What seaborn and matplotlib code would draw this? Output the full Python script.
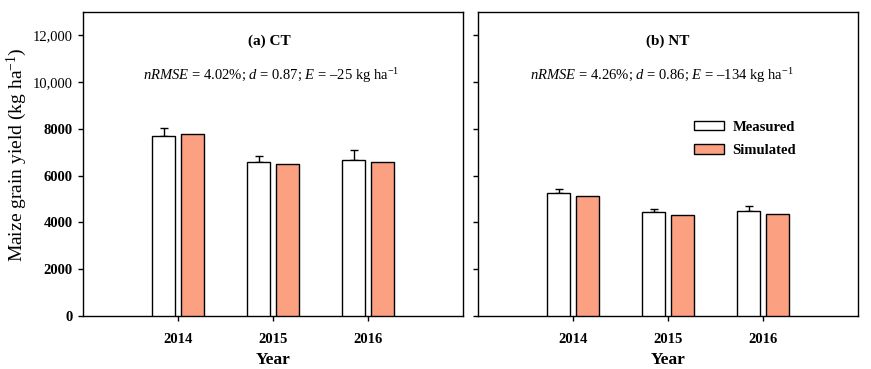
import numpy as np
import pandas as pd
import matplotlib
matplotlib.use('Agg')
import matplotlib.pyplot as plt
import seaborn as sns

# Chart values
YEARS = ['2014', '2015', '2016']
CT_MEASURED = [7710, 6570, 6690]
CT_MEASURED_ERR = [330, 270, 400]
CT_SIMULATED = [7800, 6500, 6590]
NT_MEASURED = [5240, 4440, 4510]
NT_MEASURED_ERR = [210, 150, 210]
NT_SIMULATED = [5130, 4300, 4370]
PANEL_TITLES = ['(a) CT', '(b) NT']
PANEL_STATS = [
    r'$\mathit{nRMSE}$ = 4.02%; $\mathit{d}$ = 0.87; $\mathit{E}$ = –25 kg ha$^{-1}$',
    r'$\mathit{nRMSE}$ = 4.26%; $\mathit{d}$ = 0.86; $\mathit{E}$ = –134 kg ha$^{-1}$',
]
Y_TICKS = [0, 2000, 4000, 6000, 8000, 10000, 12000]
Y_TICK_LABELS = ['0', '2000', '4000', '6000', '8000', '10,000', '12,000']

SALMON = '#FCA082'
W, H, DPI = 871, 369, 100

sns.set_style('ticks')
plt.rcParams['font.family'] = ['Liberation Serif', 'DejaVu Serif']
plt.rcParams['mathtext.fontset'] = 'custom'
plt.rcParams['mathtext.rm'] = 'Liberation Serif'
plt.rcParams['mathtext.it'] = 'Liberation Serif:italic'
plt.rcParams['mathtext.bf'] = 'Liberation Serif:bold'
for key in ['text.color', 'axes.labelcolor', 'xtick.color', 'ytick.color',
            'axes.edgecolor']:
    plt.rcParams[key] = 'black'


def make_frame(measured, simulated, err):
    rows = []
    for y, m, s, e in zip(YEARS, measured, simulated, err):
        rows.append({'Year': y, 'Source': 'Measured', 'Yield': m, 'Err': e})
        rows.append({'Year': y, 'Source': 'Simulated', 'Yield': s, 'Err': 0})
    return pd.DataFrame(rows)


frames = [make_frame(CT_MEASURED, CT_SIMULATED, CT_MEASURED_ERR),
          make_frame(NT_MEASURED, NT_SIMULATED, NT_MEASURED_ERR)]

fig = plt.figure(figsize=(W / DPI, H / DPI), dpi=DPI)
ax_lefts = [83, 478]
axes = [fig.add_axes([l / W, (H - 316) / H, 380 / W, 304 / H]) for l in ax_lefts]

for i, (ax, df) in enumerate(zip(axes, frames)):
    sns.barplot(
        data=df, x='Year', y='Yield', hue='Source', order=YEARS,
        hue_order=['Measured', 'Simulated'],
        palette={'Measured': 'white', 'Simulated': SALMON}, saturation=1,
        width=0.6, gap=0.18, edgecolor='black', linewidth=1.0,
        errorbar=None, legend=(i == 1), ax=ax, zorder=3)

    # error bars (upper only) on measured bars
    meas = df[df['Source'] == 'Measured']
    bars = ax.containers[0]
    xs = [b.get_x() + b.get_width() / 2 for b in bars]
    ax.errorbar(xs, meas['Yield'].values,
                yerr=[np.zeros(len(xs)), meas['Err'].values],
                fmt='none', ecolor='black', elinewidth=1.0, capsize=3,
                capthick=1.0, zorder=2)

    ax.set_xlim(-1, 3)
    ax.set_ylim(0, 13000)
    ax.set_yticks(Y_TICKS)
    for s in ['top', 'right', 'left', 'bottom']:
        ax.spines[s].set_visible(True)
        ax.spines[s].set_linewidth(1.0)
        ax.spines[s].set_color('black')
    ax.tick_params(axis='both', direction='out', length=3.5, width=1.0,
                   color='black', labelcolor='black', labelsize=10.5)
    ax.tick_params(axis='x', pad=9)
    ax.tick_params(axis='y', pad=4)
    for lab in ax.get_xticklabels():
        lab.set_fontweight('bold')
    ax.set_xlabel('Year', fontsize=12.5, fontweight='bold', labelpad=4)

    if i == 0:
        ax.set_yticklabels(Y_TICK_LABELS)
        for lab, t in zip(ax.get_yticklabels(), Y_TICKS):
            lab.set_fontweight('bold' if t < 10000 else 'normal')
        ax.set_ylabel(r'Maize grain yield (kg ha$^{-1}$)', fontsize=14)
        ax.yaxis.set_label_coords(-54 / 380, 0.53)
    else:
        ax.set_yticklabels([])
        ax.set_ylabel('')

    ax.text(0.49 if i == 0 else 0.5, 0.905, PANEL_TITLES[i],
            transform=ax.transAxes, ha='center', va='center',
            fontsize=11, fontweight='bold')
    ax.text(0.495 if i == 0 else 0.485, 0.79, PANEL_STATS[i],
            transform=ax.transAxes, ha='center', va='center', fontsize=10.5)

sns.move_legend(axes[1], loc='upper left', bbox_to_anchor=(0.535, 0.685),
                frameon=False, title=None, handlelength=2.0,
                handleheight=0.6, labelspacing=0.7, handletextpad=0.6,
                prop={'weight': 'bold', 'size': 10.5})

fig.savefig('out.png', dpi=DPI)
